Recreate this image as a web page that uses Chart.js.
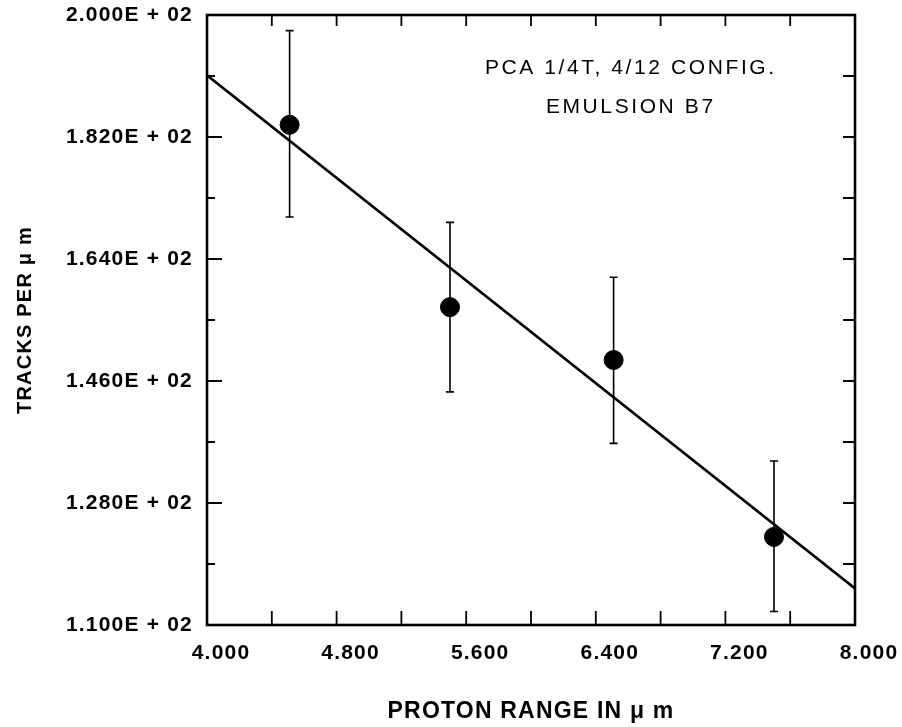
<!DOCTYPE html>
<html>
<head>
<meta charset="utf-8">
<script src="https://cdn.jsdelivr.net/npm/chart.js@4"></script>
<style>
  body { margin: 0; background: #fff; }
  #wrap { width: 902px; height: 727px; }
</style>
</head>
<body>
<div id="wrap"><canvas id="rangeChart" width="902" height="727"></canvas></div>
<script>
// measured points (proton range vs tracks per um) with error bar ends
const rangeUm = [4.51, 5.50, 6.51, 7.50];
const tracks = [183.8, 156.9, 149.1, 123.0];
const errLow = [170.2, 144.4, 136.8, 112.0];
const errHigh = [197.7, 169.4, 161.3, 134.2];

// fitted straight line, ends at the plot edges
const fitX = [4.0, 8.0];
const fitY = [191.1, 115.4];

// ticks, every other one labelled
const xTickValues = [4.0, 4.4, 4.8, 5.2, 5.6, 6.0, 6.4, 6.8, 7.2, 7.6, 8.0];
const xTickLabels = ['4.000', '', '4.800', '', '5.600', '', '6.400', '', '7.200', '', '8.000'];
const yTickValues = [110, 119, 128, 137, 146, 155, 164, 173, 182, 191, 200];
const yTickLabels = ['1.100E + 02', '', '1.280E + 02', '', '1.460E + 02', '', '1.640E + 02', '', '1.820E + 02', '', '2.000E + 02'];

const noteLines = ['PCA 1/4T, 4/12 CONFIG.', 'EMULSION B7'];

const FONT = "'Liberation Sans', Arial, sans-serif";

// the old plotter lettering is wide, so space the letters a bit
const spacingPlugin = {
  id: 'spacing',
  beforeUpdate(chart) { chart.ctx.letterSpacing = '1.2px'; },
  beforeDraw(chart) { chart.ctx.letterSpacing = '1.2px'; }
};

//frame, inward ticks, error bars and the note
const framePlugin = {
  id: 'frame',
  beforeDatasetsDraw(chart) {
    const ctx = chart.ctx;
    const xs = chart.scales.x, ys = chart.scales.y;
    ctx.save();
    ctx.strokeStyle = '#000';
    ctx.lineWidth = 1.6;
    for (let i = 0; i < rangeUm.length; i++) {
      const px = xs.getPixelForValue(rangeUm[i]);
      const top = ys.getPixelForValue(errHigh[i]);
      const bot = ys.getPixelForValue(errLow[i]);
      ctx.beginPath();
      ctx.moveTo(px, top); ctx.lineTo(px, bot);
      ctx.moveTo(px - 4, top); ctx.lineTo(px + 4, top);
      ctx.moveTo(px - 4, bot); ctx.lineTo(px + 4, bot);
      ctx.stroke();
    }
    ctx.restore();
  },
  afterDraw(chart) {
    const ctx = chart.ctx;
    const a = chart.chartArea;
    const xs = chart.scales.x, ys = chart.scales.y;
    ctx.save();
    ctx.strokeStyle = '#000';
    ctx.lineWidth = 1.8;
    ctx.beginPath();
    xTickValues.forEach((v, i) => {
      if (i === 0 || i === xTickValues.length - 1) return;
      const px = xs.getPixelForValue(v);
      ctx.moveTo(px, a.bottom); ctx.lineTo(px, a.bottom - 14);
      ctx.moveTo(px, a.top); ctx.lineTo(px, a.top + 11);
    });
    yTickValues.forEach((v, i) => {
      if (i === 0 || i === yTickValues.length - 1) return;
      const py = ys.getPixelForValue(v);
      const len = yTickLabels[i] ? 15 : 8;
      ctx.moveTo(a.left, py); ctx.lineTo(a.left + len, py);
      ctx.moveTo(a.right, py); ctx.lineTo(a.right - 12, py);
    });
    ctx.stroke();
    ctx.lineWidth = 2.6;
    ctx.strokeRect(a.left, a.top, a.right - a.left, a.bottom - a.top);

    ctx.fillStyle = '#000';
    ctx.font = '21px ' + FONT;
    ctx.letterSpacing = '2.6px';
    ctx.textAlign = 'center';
    ctx.textBaseline = 'middle';
    const cx = a.left + (a.right - a.left) * 0.654;
    ctx.fillText(noteLines[0], cx, a.top + 53);
    ctx.fillText(noteLines[1], cx, a.top + 92);
    ctx.restore();
  }
};

const rangeChart = new Chart('rangeChart', {
  type: 'scatter',
  data: {
    datasets: [{
      label: 'tracks',
      data: rangeUm.map((x, i) => ({ x: x, y: tracks[i] })),
      backgroundColor: '#000',
      borderColor: '#000',
      pointRadius: 9.5,
      pointHoverRadius: 9.5
    }, {
      type: 'line',
      label: 'fit',
      data: fitX.map((x, i) => ({ x: x, y: fitY[i] })),
      borderColor: '#000',
      borderWidth: 2.6,
      pointRadius: 0,
      fill: false
    }]
  },
  options: {
    responsive: false,
    animation: false,
    events: [],
    layout: { padding: { top: 15, right: 47, left: 0, bottom: 0 } },
    plugins: {
      legend: { display: false },
      tooltip: { enabled: false }
    },
    scales: {
      x: {
        type: 'linear',
        min: 4, max: 8,
        afterBuildTicks: s => { s.ticks = xTickValues.map(v => ({ value: v })); },
        afterFit: s => { s.height = 102; },
        grid: { display: false },
        border: { display: false },
        ticks: {
          autoSkip: false,
          maxRotation: 0,
          padding: 8,
          labelOffset: 14,
          color: '#000',
          font: { family: FONT, size: 21, weight: 'bold' },
          callback: (v, i) => xTickLabels[i]
        },
        title: {
          display: true,
          text: 'PROTON RANGE IN \u03bc m',
          color: '#000',
          font: { family: FONT, size: 23, weight: 'bold' },
          padding: { top: 0, bottom: 2 }
        }
      },
      y: {
        type: 'linear',
        min: 110, max: 200,
        afterBuildTicks: s => { s.ticks = yTickValues.map(v => ({ value: v })); },
        afterFit: s => { s.width = 207; s.paddingTop = 0; s.paddingBottom = 0; },
        grid: { display: false },
        border: { display: false },
        ticks: {
          autoSkip: false,
          padding: 6,
          color: '#000',
          font: { family: FONT, size: 21, weight: 'bold' },
          callback: (v, i) => yTickLabels[i]
        },
        title: {
          display: true,
          text: 'TRACKS PER \u03bc m',
          color: '#000',
          font: { family: FONT, size: 20, weight: 'bold' },
          padding: { top: 13, bottom: 0 }
        }
      }
    }
  },
  plugins: [spacingPlugin, framePlugin]
});
</script>
</body>
</html>
